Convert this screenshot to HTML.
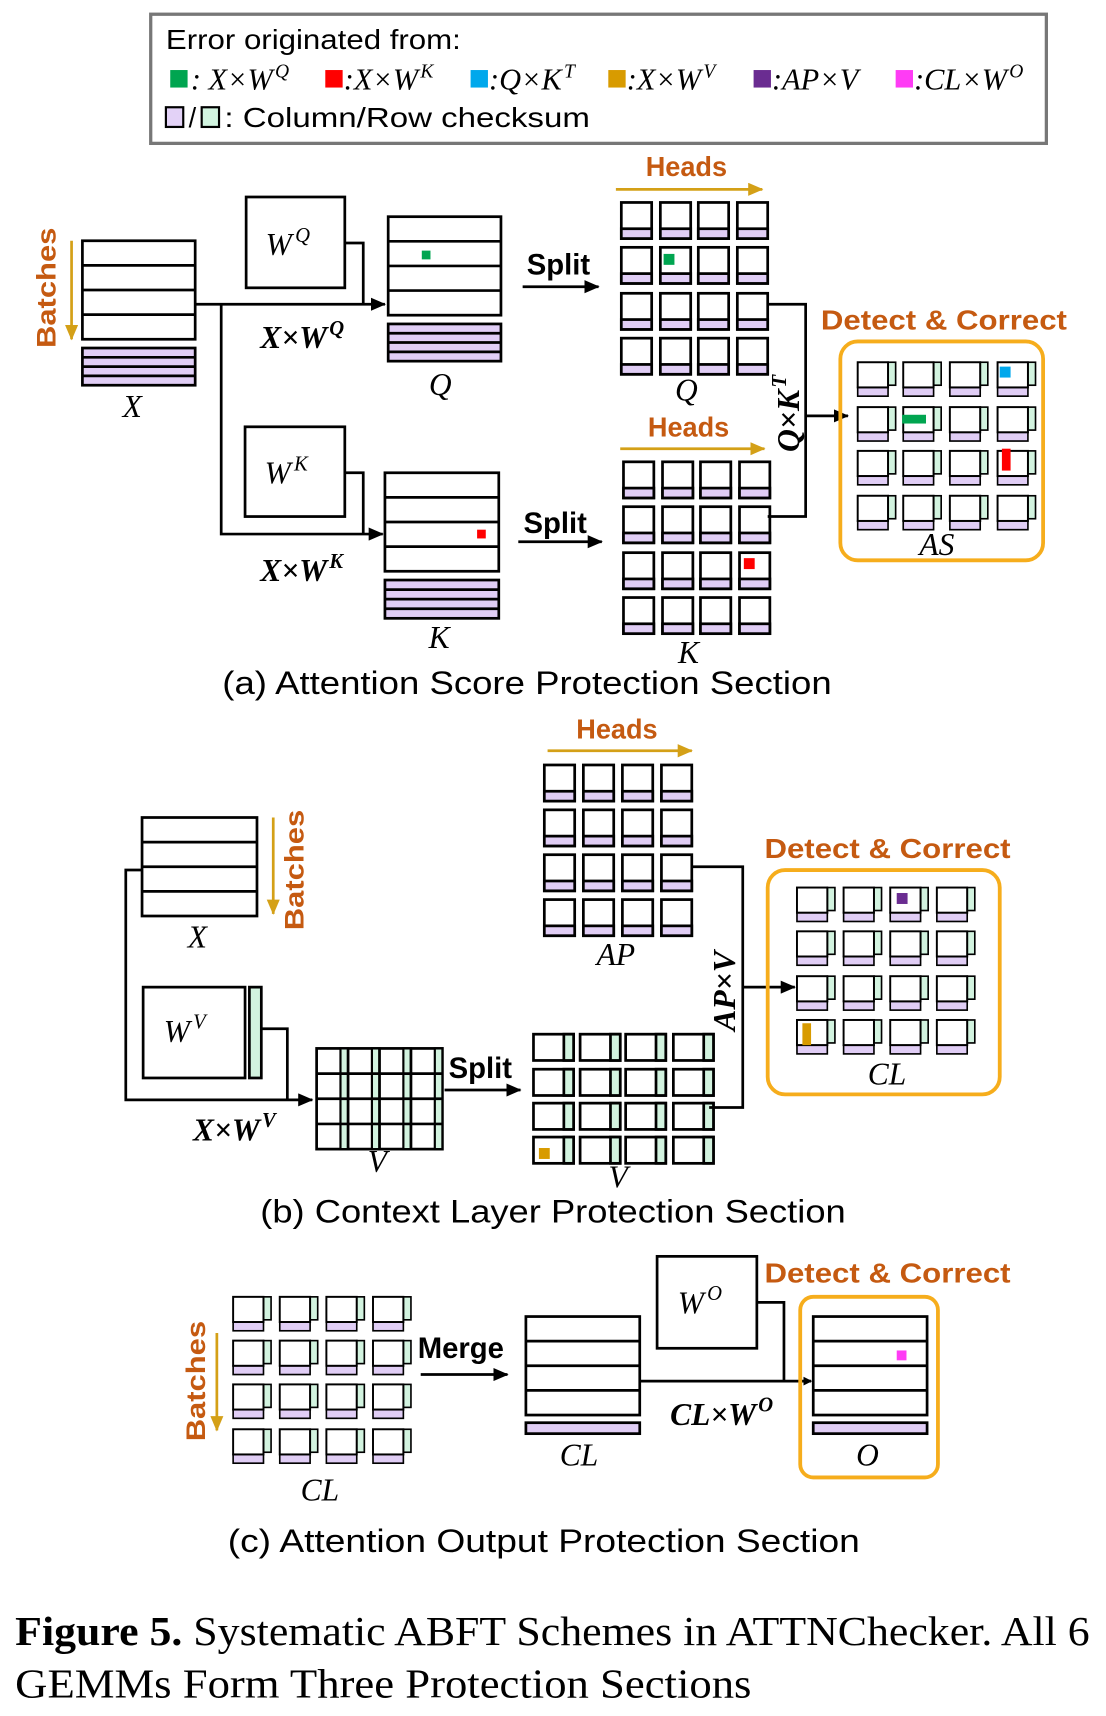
<!DOCTYPE html>
<html><head><meta charset="utf-8">
<style>
html,body{margin:0;padding:0;background:#fff;}
svg{display:block;}
.s{font-family:"Liberation Sans",sans-serif;}
.m{font-family:"Liberation Serif",serif;font-style:italic;}
.mb{font-family:"Liberation Serif",serif;font-style:italic;font-weight:bold;}
.or{fill:#c55a11;font-family:"Liberation Sans",sans-serif;font-weight:bold;}
</style></head><body>
<svg id="svg" width="1106" height="1716" viewBox="0 0 1020 1568" preserveAspectRatio="none" xmlns="http://www.w3.org/2000/svg">
<defs>
<marker id="ah" markerWidth="8" markerHeight="8" refX="7" refY="4" orient="auto" markerUnits="userSpaceOnUse"><path d="M0,0 L8,4 L0,8z" fill="#000"/></marker>
<marker id="ahb" markerWidth="14" markerHeight="12" refX="13" refY="6" orient="auto" markerUnits="userSpaceOnUse"><path d="M0,0 L14,6 L0,12z" fill="#000"/></marker>
<marker id="ahg" markerWidth="14" markerHeight="12" refX="13" refY="6" orient="auto" markerUnits="userSpaceOnUse"><path d="M0,0 L14,6 L0,12z" fill="#d4a017"/></marker>
</defs>
<rect x="139" y="13" width="826" height="118" fill="#fff" stroke="#777" stroke-width="3"/>
<text x="153" y="45" class="s" font-size="25" textLength="272" lengthAdjust="spacingAndGlyphs">Error originated from:</text>
<g font-size="28">
<rect x="157" y="64" width="16" height="16" fill="#00a550"/><text x="176" y="82" class="m">: X×W<tspan font-size="18" dx="2" dy="-11">Q</tspan></text>
<rect x="300" y="64" width="16" height="16" fill="#ff0000"/><text x="317" y="82" class="m">:X×W<tspan font-size="18" dx="2" dy="-11">K</tspan></text>
<rect x="434" y="64" width="16" height="16" fill="#00a8ec"/><text x="451" y="82" class="m">:Q×K<tspan font-size="18" dx="2" dy="-11">T</tspan></text>
<rect x="561" y="64" width="16" height="16" fill="#d89b00"/><text x="578" y="82" class="m">:X×W<tspan font-size="18" dx="2" dy="-11">V</tspan></text>
<rect x="695" y="64" width="16" height="16" fill="#6a2c91"/><text x="712" y="82" class="m">:AP×V</text>
<rect x="826" y="64" width="16" height="16" fill="#ff3cf5"/><text x="843" y="82" class="m">:CL×W<tspan font-size="18" dx="2" dy="-11">O</tspan></text>
</g>
<rect x="153" y="98" width="16" height="18" fill="#e3d2f7" stroke="#000" stroke-width="2"/>
<text x="174" y="116" class="s" font-size="25">/</text>
<rect x="186" y="98" width="16" height="18" fill="#d2f5e0" stroke="#000" stroke-width="2"/>
<text x="207" y="116" class="s" font-size="25" textLength="337" lengthAdjust="spacingAndGlyphs">: Column/Row checksum</text>

<g id="gen"></g>

<g id="draw" stroke="#000" stroke-width="2.5" fill="none">
<polyline points="180,278 355,278" marker-end="url(#ahb)"/>
<polyline points="318,222 335,222 335,278"/>
<polyline points="204,278 204,488 353,488" marker-end="url(#ahb)"/>
<polyline points="318,432 335,432 335,488"/>
<line x1="482" y1="262" x2="552" y2="262" marker-end="url(#ahb)"/>
<line x1="478" y1="495" x2="555" y2="495" marker-end="url(#ahb)"/>
<polyline points="708,278 743,278 743,472 708,472"/>
<line x1="743" y1="380" x2="782" y2="380" marker-end="url(#ahb)"/>
<polyline points="131,795 116,795 116,1005 288,1005" marker-end="url(#ahb)"/>
<polyline points="241,940 265,940 265,1005"/>
<line x1="410" y1="996" x2="480" y2="996" marker-end="url(#ahb)"/>
<polyline points="638,792 685,792 685,1012 654,1012"/>
<line x1="685" y1="902" x2="733" y2="902" marker-end="url(#ahb)"/>
<line x1="388" y1="1256" x2="468" y2="1256" marker-end="url(#ahb)"/>
<polyline points="698,1190 723,1190 723,1262"/>
<line x1="590" y1="1262" x2="748" y2="1262" marker-end="url(#ah)"/>
</g>
<g stroke="#d4a017" stroke-width="2.5">
<line x1="66" y1="220" x2="66" y2="310" marker-end="url(#ahg)"/>
<line x1="568" y1="173" x2="703" y2="173" marker-end="url(#ahg)"/>
<line x1="572" y1="410" x2="705" y2="410" marker-end="url(#ahg)"/>
<line x1="505" y1="686" x2="638" y2="686" marker-end="url(#ahg)"/>
<line x1="252" y1="747" x2="252" y2="835" marker-end="url(#ahg)"/>
<line x1="200" y1="1218" x2="200" y2="1307" marker-end="url(#ahg)"/>
</g>
<g stroke="#f6ad1c" stroke-width="3.5" fill="none">
<rect x="775" y="312" width="187" height="200" rx="16"/>
<rect x="708" y="795" width="214" height="205" rx="16"/>
<rect x="738" y="1185" width="127" height="165" rx="12"/>
</g>

<g class="or" font-size="25">
<text transform="translate(51,263) rotate(-90)" text-anchor="middle" textLength="110" lengthAdjust="spacingAndGlyphs">Batches</text>
<text transform="translate(280,795) rotate(-90)" text-anchor="middle" textLength="110" lengthAdjust="spacingAndGlyphs">Batches</text>
<text transform="translate(189,1262) rotate(-90)" text-anchor="middle" textLength="110" lengthAdjust="spacingAndGlyphs">Batches</text>
<text x="633" y="161" text-anchor="middle">Heads</text>
<text x="635" y="399" text-anchor="middle">Heads</text>
<text x="569" y="675" text-anchor="middle">Heads</text>
<text x="757" y="301" textLength="227" lengthAdjust="spacingAndGlyphs">Detect &amp; Correct</text>
<text x="705" y="784" textLength="227" lengthAdjust="spacingAndGlyphs">Detect &amp; Correct</text>
<text x="705" y="1172" textLength="227" lengthAdjust="spacingAndGlyphs">Detect &amp; Correct</text>
</g>

<g class="s" font-weight="bold" font-size="27">
<text x="515" y="251" text-anchor="middle">Split</text>
<text x="512" y="487" text-anchor="middle">Split</text>
<text x="443" y="985" text-anchor="middle">Split</text>
<text x="425" y="1241" text-anchor="middle">Merge</text>
</g>
<g font-size="29">
<text class="m" x="122" y="381" text-anchor="middle">X</text>
<text class="m" x="406" y="361" text-anchor="middle">Q</text>
<text class="m" x="633" y="366" text-anchor="middle">Q</text>
<text class="m" x="405" y="592" text-anchor="middle">K</text>
<text class="m" x="635" y="606" text-anchor="middle">K</text>
<text class="m" x="864" y="507" text-anchor="middle">AS</text>
<text class="m" x="182" y="866" text-anchor="middle">X</text>
<text class="m" x="568" y="882" text-anchor="middle">AP</text>
<text class="m" x="348" y="1071" text-anchor="middle">V</text>
<text class="m" x="570" y="1085" text-anchor="middle">V</text>
<text class="m" x="818" y="991" text-anchor="middle">CL</text>
<text class="m" x="295" y="1371" text-anchor="middle">CL</text>
<text class="m" x="534" y="1339" text-anchor="middle">CL</text>
<text class="m" x="800" y="1339" text-anchor="middle">O</text>
<text class="m" x="245" y="233">W<tspan font-size="19" dx="3" dy="-12">Q</tspan></text>
<text class="m" x="244" y="442">W<tspan font-size="19" dx="3" dy="-12">K</tspan></text>
<text class="m" x="151" y="952">W<tspan font-size="19" dx="3" dy="-12">V</tspan></text>
<text class="m" x="625" y="1200">W<tspan font-size="19" dx="3" dy="-12">O</tspan></text>
<text class="mb" x="240" y="318">X×W<tspan font-size="19" dx="2" dy="-12">Q</tspan></text>
<text class="mb" x="240" y="531">X×W<tspan font-size="19" dx="2" dy="-12">K</tspan></text>
<text class="mb" x="178" y="1042">X×W<tspan font-size="19" dx="2" dy="-12">V</tspan></text>
<text class="mb" x="618" y="1302">CL×W<tspan font-size="19" dx="2" dy="-12">O</tspan></text>
<text class="mb" transform="translate(737,413) rotate(-90)">Q×K<tspan font-size="19" dx="2" dy="-12">T</tspan></text>
<text class="mb" transform="translate(678,942) rotate(-90)">AP×V</text>
</g>
<g class="s" font-size="30">
<text x="205" y="634" textLength="562" lengthAdjust="spacingAndGlyphs">(a) Attention Score Protection Section</text>
<text x="240" y="1117" textLength="540" lengthAdjust="spacingAndGlyphs">(b) Context Layer Protection Section</text>
<text x="210" y="1418" textLength="583" lengthAdjust="spacingAndGlyphs">(c) Attention Output Protection Section</text>
</g>
<g font-family="'Liberation Serif',serif" font-size="38">
<text x="14" y="1503" textLength="991" lengthAdjust="spacingAndGlyphs"><tspan font-weight="bold">Figure 5.</tspan> Systematic ABFT Schemes in ATTNChecker. All 6</text>
<text x="14" y="1551" textLength="679" lengthAdjust="spacingAndGlyphs">GEMMs Form Three Protection Sections</text>
</g>
</svg>
<script>
(function(){
var NS="http://www.w3.org/2000/svg",g=document.getElementById("gen");
var P="#e0cdf5",G="#d2f3df";
function r(x,y,w,h,f,sw,st){var e=document.createElementNS(NS,"rect");e.setAttribute("x",x);e.setAttribute("y",y);e.setAttribute("width",w);e.setAttribute("height",h);e.setAttribute("fill",f||"#fff");e.setAttribute("stroke",st||"#000");e.setAttribute("stroke-width",sw==null?2.5:sw);g.appendChild(e);}
function l(x1,y1,x2,y2,sw){var e=document.createElementNS(NS,"line");e.setAttribute("x1",x1);e.setAttribute("y1",y1);e.setAttribute("x2",x2);e.setAttribute("y2",y2);e.setAttribute("stroke","#000");e.setAttribute("stroke-width",sw||2.5);g.appendChild(e);}
function dot(x,y,w,h,c){r(x,y,w,h,c,0,"none");}
function mat(x,y,w,h,n){r(x,y,w,h);for(var i=1;i<n;i++){var yy=y+h*i/n;l(x,yy,x+w,yy);}}
function pm(x,y,w,h,n){r(x,y,w,h,P);for(var i=1;i<n;i++){var yy=y+h*i/n;l(x,yy,x+w,yy);}}
function headQ(xs,ys){for(var i=0;i<4;i++)for(var j=0;j<4;j++){var x=xs[j],y=ys[i];r(x,y,28,33);r(x,y+24,28,9,P);}}
function asg(xs,ys){for(var i=0;i<4;i++)for(var j=0;j<4;j++){var x=xs[j],y=ys[i];r(x+28,y,7,21,G,1.5);r(x,y+23,28,8,P,1.5);r(x,y,28,23,"none",1.8);}}
function vh(xs,ys){for(var i=0;i<4;i++)for(var j=0;j<4;j++){var x=xs[j],y=ys[i];r(x,y,37,24);r(x+28,y,9,24,G,2.5);}}
mat(76,220,104,90,4);pm(76,318,104,34,4);
r(227,180,91,83);r(226,390,92,82);
mat(358,198,104,90,4);pm(358,296,104,34,4);
mat(355,432,105,90,4);pm(355,530,105,35,4);
dot(389,229,8,8,"#00a550");dot(440,484,8,8,"#ff0000");
headQ([573,609,644,680],[185,226,268,309]);
headQ([575,611,646,682],[422,463,505,546]);
dot(612,232,10,10,"#00a550");dot(686,510,10,10,"#ff0000");
asg([791,833,876,920],[331,372,412,453]);
dot(922,335,10,10,"#00a8ec");dot(832,379,22,8,"#00a550");dot(924,410,8,20,"#ff0000");
mat(131,747,106,90,4);
r(132,902,94,83);r(230,902,11,83,G);
(function(){var x=292,y=958,w=116,h=92;r(x,y,w,h);var cw=w/4;for(var c=0;c<4;c++){r(x+c*cw+cw-7,y,7,h,G,2);}for(var i=1;i<4;i++)l(x,y+h*i/4,x+w,y+h*i/4);for(var c=1;c<4;c++)l(x+c*cw,y,x+c*cw,y+h);})();
headQ([502,538,574,610],[699,740,781,822]);
vh([492,535,577,621],[945,977,1008,1039]);
dot(497,1049,10,10,"#d89b00");
asg([735,778,821,864],[811,851,892,932]);
dot(827,816,10,10,"#6a2c91");dot(740,935,8,20,"#d89b00");
asg([215,258,301,344],[1185,1225,1265,1306]);
mat(485,1203,105,90,4);r(485,1300,105,10,P);
r(606,1148,92,84);
mat(750,1203,105,90,4);r(750,1300,105,10,P);
dot(827,1234,9,9,"#ff3cf5");
})();
</script>
</body></html>
